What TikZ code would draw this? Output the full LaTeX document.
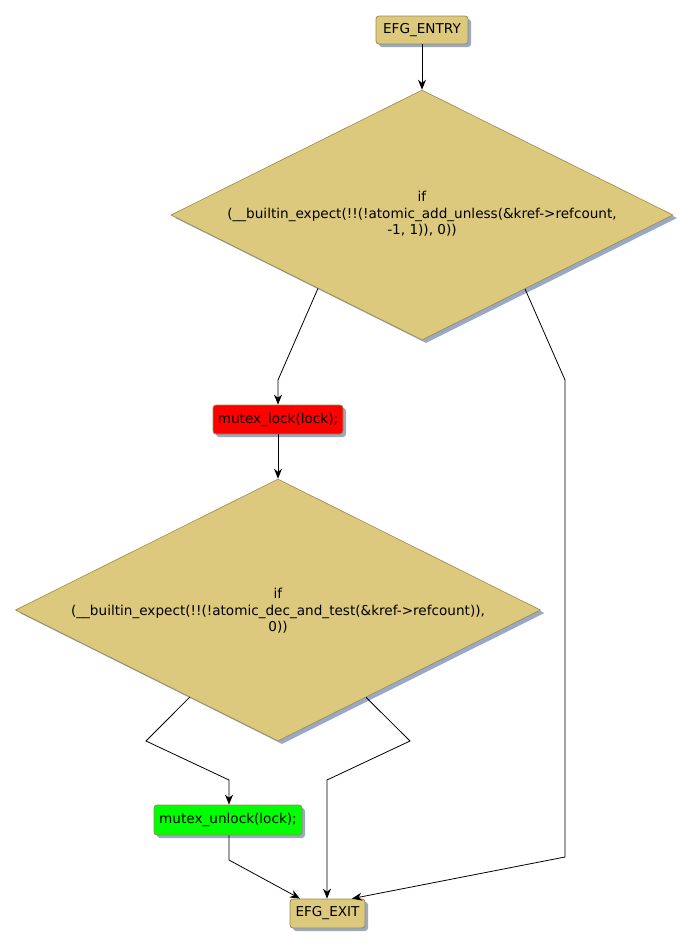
\documentclass[tikz,border=0pt]{standalone}
\usepackage{fontspec}
\setmainfont{DejaVu Sans}
\usetikzlibrary{arrows.meta,shapes.geometric,shadows,calc}
\definecolor{tan}{HTML}{DCC97E}
\definecolor{tanb}{HTML}{9A8A4C}
\definecolor{shd}{HTML}{98A8C6}
\definecolor{redf}{HTML}{FF0000}
\definecolor{greenf}{HTML}{00FF00}
\tikzset{
  x=1pt,y=-1pt,
  box/.style={draw=tanb,line width=0.8pt,rounded corners=3pt,fill=tan,
    inner xsep=4pt,inner ysep=0pt,minimum height=28pt,
    font=\fontsize{13.6}{16}\selectfont,
    drop shadow={shadow xshift=3pt,shadow yshift=-3pt,fill=shd,opacity=1}},
  dia/.style={diamond,draw=tanb,line width=0.6pt,fill=tan,inner sep=0pt,
    drop shadow={shadow xshift=4pt,shadow yshift=-3pt,fill=shd,opacity=1}},
  diatext/.style={align=center,font=\fontsize{13.6}{16.5}\selectfont,inner sep=0pt},
  arr/.style={draw=black,line width=0.8pt,-{Stealth[length=10pt,width=8pt]}},
}
\begin{document}
\begin{tikzpicture}
\useasboundingbox (0,0) rectangle (692,948);
\node[box,minimum width=92pt] (entry) at (422,30) {EFG\_ENTRY};
\node[dia,minimum width=502pt,minimum height=250pt] (d1) at (422,215) {};
\node[diatext] (t1) at (422,214) {if\\(\_\_builtin\_expect(!!(!atomic\_add\_unless(\&kref->refcount,\\-1, 1)), 0))};
\node[box,fill=redf,minimum width=130pt,minimum height=29pt] (lock) at (278,419.5) {mutex\_lock(lock);};
\node[dia,minimum width=525pt,minimum height=262pt] (d2) at (278,610) {};
\node[diatext] (t2) at (278,611) {if\\(\_\_builtin\_expect(!!(!atomic\_dec\_and\_test(\&kref->refcount)),\\0))};
\node[box,fill=greenf,minimum width=148pt,minimum height=30pt] (unlock) at (228,820) {mutex\_unlock(lock);};
\node[box,minimum width=75pt,minimum height=29pt] (exit) at (327.5,913.5) {EFG\_EXIT};

\coordinate (a1) at ($(d1.west)!0.586!(d1.south)$);
\coordinate (a2) at (278,380);
\coordinate (b1) at ($(d1.east)!0.59!(d1.south)$);
\coordinate (b2) at (565,380);
\coordinate (b3) at (565,857);
\coordinate (c1) at ($(d2.west)!0.664!(d2.south)$);
\coordinate (c2) at (146,741);
\coordinate (c3) at (229,780);
\coordinate (e1) at ($(d2.east)!0.665!(d2.south)$);
\coordinate (e2) at (410,741);
\coordinate (e3) at (327,780);
\coordinate (u1) at (229,860);

\draw[arr] (entry) -- (d1.north);
\draw[arr] (a1) -- (a2) -- (lock.north);
\draw[arr] (b1) -- (b2) -- (b3) -- (exit.north east -| 352,0);
\draw[arr] (lock) -- (d2.north);
\draw[arr] (c1) -- (c2) -- (c3) -- (unlock.north -| c3);
\draw[arr] (e1) -- (e2) -- (e3) -- (exit.north -| e3);
\draw[arr] (unlock.south -| u1) -- (u1) -- (exit.north west -| 300,0);
\end{tikzpicture}
\end{document}
